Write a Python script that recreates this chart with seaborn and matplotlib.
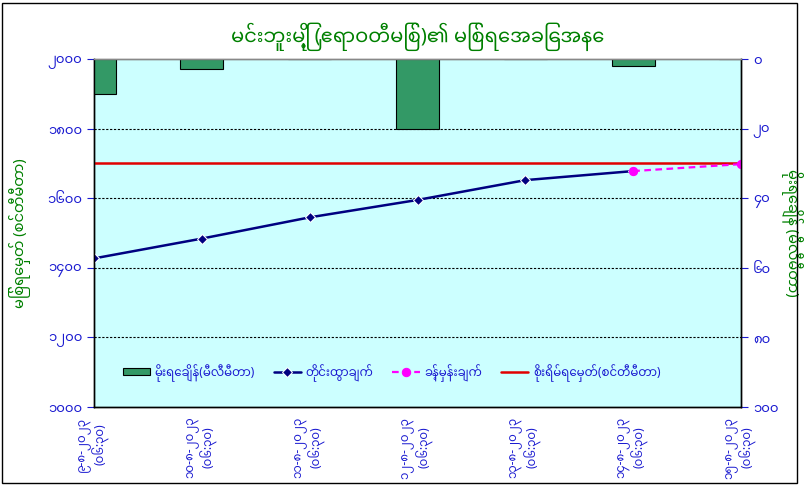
import matplotlib
matplotlib.use("Agg")
import matplotlib.pyplot as plt
import matplotlib.font_manager as fm
from matplotlib.patches import Rectangle
import seaborn as sns

# data
dates = ["၉-၈-၂၀၂၃", "၁၀-၈-၂၀၂၃", "၁၁-၈-၂၀၂၃", "၁၂-၈-၂၀၂၃",
         "၁၃-၈-၂၀၂၃", "၁၄-၈-၂၀၂၃", "၁၅-၈-၂၀၂၃"]
time_label = "(၀၆:၃၀)"
rain_mm = [10, 3, 0, 20, 0, 2, 0]
measured_cm = [1427, 1484, 1545, 1595, 1652, 1678]
forecast_cm = [1678, 1698]
danger_cm = 1700
left_ticks = [1000, 1200, 1400, 1600, 1800, 2000]
left_tick_labels = ["၁၀၀၀", "၁၂၀၀", "၁၄၀၀", "၁၆၀၀", "၁၈၀၀", "၂၀၀၀"]
right_ticks = [0, 20, 40, 60, 80, 100]
right_tick_labels = ["၀", "၂၀", "၄၀", "၆၀", "၈၀", "၁၀၀"]

title = "မင်းဘူးမြို့ (ဧရာဝတီမြစ်)၏ မြစ်ရေအခြေအနေ"
left_label = "မြစ်ရေမှတ် (စင်တီမီတာ)"
right_label = "မိုးရေချိန် (မီလီမီတာ)"
legend_labels = ["မိုးရေချိန်(မီလီမီတာ)", "တိုင်းထွာချက်", "ခန့်မှန်းချက်",
                 "စိုးရိမ်ရေမှတ်(စင်တီမီတာ)"]

sns.set_style("white")
# use a Myanmar font if one happens to be installed
installed = {f.name for f in fm.fontManager.ttflist}
families = [n for n in ["Noto Sans Myanmar", "Padauk", "Myanmar Text", "Pyidaungsu"]
            if n in installed]
plt.rcParams["font.family"] = families + ["DejaVu Sans"]

green = "#008000"
blue = "#1A1AD0"

fig, ax = plt.subplots(figsize=(8.12, 4.92), dpi=100)
fig.subplots_adjust(left=0.1158, right=0.9126, top=0.880, bottom=0.1728)
fig.patches.append(Rectangle((0.003, 0.018), 0.978, 0.975, transform=fig.transFigure,
                             fill=False, edgecolor="black", linewidth=1))
ax.set_facecolor("#CCFFFF")

pos = list(range(len(dates)))

ax.axhline(danger_cm, color="#E00000", linewidth=1.8, zorder=3)
sns.lineplot(x=pos[:len(measured_cm)], y=measured_cm, ax=ax, color="#000080",
             marker="D", markersize=5, linewidth=1.8, zorder=4)
sns.lineplot(x=pos[len(measured_cm) - 1:], y=forecast_cm, ax=ax, color="#FF00FF",
             marker="o", markersize=6, linewidth=1.6, linestyle="--", zorder=5,
             markeredgecolor="#FF00FF")
ax.lines[-1].set_dashes((3, 2))

ax.set_ylim(1000, 2000)
ax.set_yticks(left_ticks)
ax.set_yticklabels(left_tick_labels)
for y in left_ticks[1:-1]:
    ax.axhline(y, color="black", linestyle=(0, (2, 1.5)), linewidth=0.8, zorder=1)

ax2 = ax.twinx()
sns.barplot(x=pos, y=rain_mm, ax=ax2, native_scale=True, width=0.4,
            color="#339966", edgecolor="black", linewidth=0.8, saturation=1)
ax2.set_ylim(100, 0)
ax2.set_yticks(right_ticks)
ax2.set_yticklabels(right_tick_labels)

ax.set_xlim(0, 6)
ax.set_xticks(pos)
ax.set_xticklabels([d + "\n" + time_label for d in dates], rotation=90,
                   color=blue, fontsize=8.5, fontweight="bold", va="top",
                   linespacing=1.1)

for a in (ax, ax2):
    a.tick_params(axis="y", colors=blue, labelsize=9.5, length=5, direction="out")
    a.tick_params(axis="x", length=5, direction="out", colors="black")
    for lbl in a.get_yticklabels():
        lbl.set_color(blue)
        lbl.set_fontweight("bold")
    for s in a.spines.values():
        s.set_color("black")
        s.set_linewidth(1)
    a.spines["top"].set_color("#888888")
ax.tick_params(axis="x", labelcolor=blue, pad=2)

ax.set_ylabel(left_label, color=green, fontsize=10.5, fontweight="bold", labelpad=12)
ax2.set_ylabel(right_label, color=green, fontsize=10.5, fontweight="bold",
               rotation=270, labelpad=18)
ax.set_title(title, color=green, fontsize=14, fontweight="bold", pad=12)

handles = [ax2.patches[0], ax.lines[1], ax.lines[2], ax.lines[0]]
ax2.legend(handles, legend_labels, ncol=4, frameon=False, loc="center",
           bbox_to_anchor=(0.46, 0.098), handlelength=2.3, handleheight=0.5,
           columnspacing=1.6, handletextpad=0.4, labelcolor=blue,
           prop={"weight": "bold", "size": 8.5})

fig.savefig("out.png", dpi=100, facecolor="white")
